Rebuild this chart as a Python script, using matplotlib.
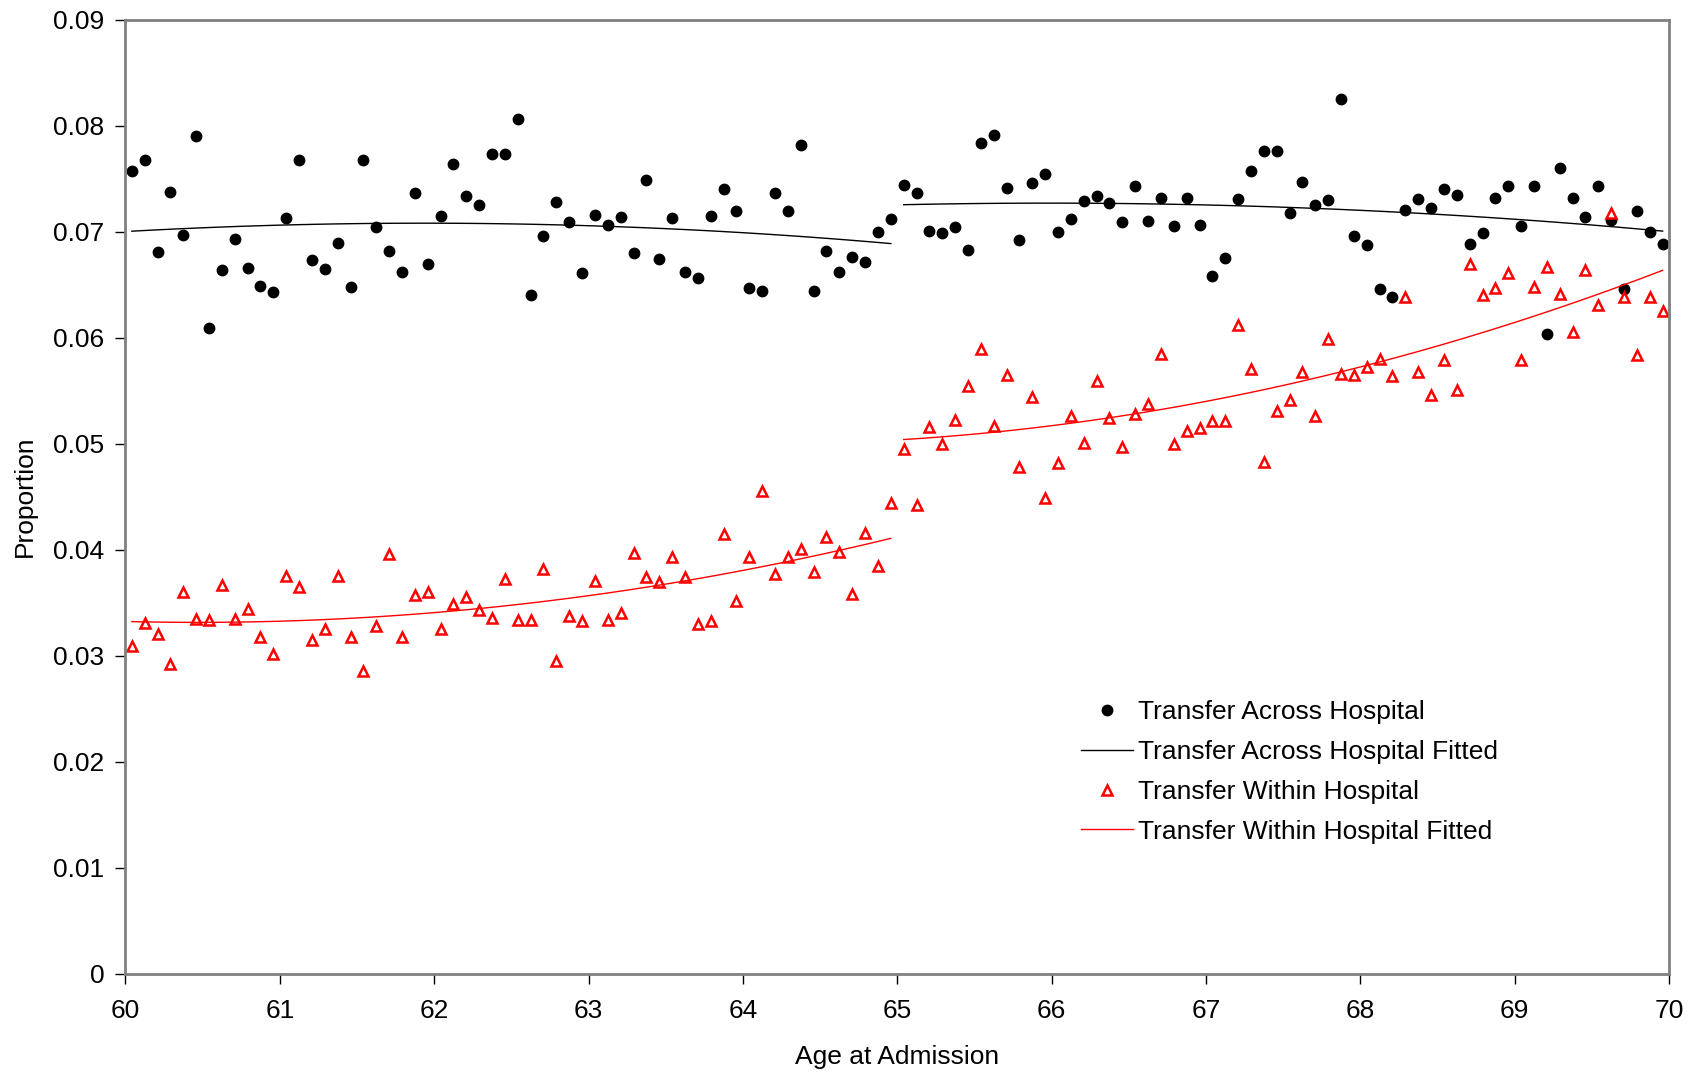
import matplotlib
matplotlib.use("Agg")
import matplotlib.pyplot as plt
import numpy as np

plt.rcParams['font.family'] = ['Liberation Sans', 'DejaVu Sans']

# monthly age bins, 60 to 70 (mid-month)
months = np.arange(120)
age = 60 + (months + 0.5) / 12

across = [
    0.0757, 0.0768, 0.0681, 0.0737, 0.0697, 0.0790, 0.0609, 0.0664, 0.0693, 0.0666,
    0.0649, 0.0643, 0.0713, 0.0768, 0.0673, 0.0665, 0.0689, 0.0648, 0.0768, 0.0704,
    0.0682, 0.0662, 0.0736, 0.0669, 0.0715, 0.0764, 0.0734, 0.0725, 0.0773, 0.0773,
    0.0806, 0.0640, 0.0696, 0.0728, 0.0709, 0.0661, 0.0716, 0.0706, 0.0714, 0.0680,
    0.0749, 0.0674, 0.0713, 0.0662, 0.0656, 0.0715, 0.0740, 0.0719, 0.0647, 0.0644,
    0.0736, 0.0719, 0.0782, 0.0644, 0.0682, 0.0662, 0.0676, 0.0671, 0.0700, 0.0712,
    0.0744, 0.0736, 0.0701, 0.0699, 0.0704, 0.0683, 0.0784, 0.0791, 0.0741, 0.0692,
    0.0746, 0.0754, 0.0700, 0.0712, 0.0729, 0.0734, 0.0727, 0.0709, 0.0743, 0.0710,
    0.0732, 0.0705, 0.0732, 0.0706, 0.0658, 0.0675, 0.0731, 0.0757, 0.0776, 0.0776,
    0.0718, 0.0747, 0.0725, 0.0730, 0.0825, 0.0696, 0.0687, 0.0646, 0.0638, 0.0720,
    0.0731, 0.0722, 0.0740, 0.0735, 0.0688, 0.0699, 0.0732, 0.0743, 0.0705, 0.0743,
    0.0603, 0.0760, 0.0732, 0.0714, 0.0743, 0.0711, 0.0646, 0.0719, 0.0700, 0.0688,
]

within = [
    0.0309, 0.0331, 0.0321, 0.0292, 0.0360, 0.0335, 0.0334, 0.0367, 0.0335, 0.0344,
    0.0318, 0.0302, 0.0375, 0.0365, 0.0315, 0.0325, 0.0375, 0.0318, 0.0286, 0.0328,
    0.0396, 0.0318, 0.0357, 0.0360, 0.0325, 0.0349, 0.0355, 0.0343, 0.0336, 0.0372,
    0.0334, 0.0334, 0.0382, 0.0295, 0.0338, 0.0333, 0.0371, 0.0334, 0.0340, 0.0397,
    0.0374, 0.0370, 0.0393, 0.0374, 0.0330, 0.0333, 0.0415, 0.0352, 0.0393, 0.0455,
    0.0377, 0.0393, 0.0401, 0.0379, 0.0412, 0.0398, 0.0358, 0.0416, 0.0385, 0.0444,
    0.0495, 0.0442, 0.0516, 0.0500, 0.0522, 0.0554, 0.0589, 0.0517, 0.0565, 0.0478,
    0.0544, 0.0449, 0.0482, 0.0526, 0.0501, 0.0559, 0.0524, 0.0497, 0.0528, 0.0537,
    0.0585, 0.0500, 0.0512, 0.0515, 0.0521, 0.0521, 0.0612, 0.0570, 0.0483, 0.0531,
    0.0541, 0.0568, 0.0526, 0.0599, 0.0566, 0.0565, 0.0572, 0.0580, 0.0564, 0.0638,
    0.0568, 0.0546, 0.0579, 0.0551, 0.0669, 0.0640, 0.0647, 0.0661, 0.0579, 0.0648,
    0.0667, 0.0641, 0.0605, 0.0664, 0.0631, 0.0718, 0.0638, 0.0584, 0.0638, 0.0625,
]

across = np.array(across)
within = np.array(within)
cutoff = 65


def fitted(x, y):
    # separate quadratic on each side of the cutoff
    pieces = []
    for mask in (x < cutoff, x >= cutoff):
        coef = np.polyfit(x[mask], y[mask], 2)
        xs = np.linspace(x[mask][0], x[mask][-1], 100)
        pieces.append((xs, np.polyval(coef, xs)))
    return pieces


fig = plt.figure(figsize=(16.95, 10.73), dpi=100)
ax = fig.add_axes([0.074, 0.0923, 0.9107, 0.8895])

ax.plot(age, across, 'o', color='black', markersize=7.5, label='Transfer Across Hospital')
for i, (xs, ys) in enumerate(fitted(age, across)):
    ax.plot(xs, ys, '-', color='black', lw=1.0,
            label='Transfer Across Hospital Fitted' if i == 0 else None)
ax.plot(age, within, '^', color='red', markerfacecolor='white', markeredgecolor='red',
        markersize=7, markeredgewidth=1.8, label='Transfer Within Hospital')
for i, (xs, ys) in enumerate(fitted(age, within)):
    ax.plot(xs, ys, '-', color='red', lw=1.0,
            label='Transfer Within Hospital Fitted' if i == 0 else None)

ax.set_xlim(60, 70)
ax.set_ylim(0, 0.09)
ax.set_xticks(np.arange(60, 71, 1))
ax.set_yticks(np.arange(0, 0.091, 0.01))
ax.set_yticklabels(['0'] + ['%.2f' % v for v in np.arange(0.01, 0.091, 0.01)])

for s in ax.spines.values():
    s.set_color('#808080')
    s.set_linewidth(2)
ax.tick_params(axis='both', direction='out', length=7, width=1, color='black',
               labelsize=19, pad=8)
ax.tick_params(axis='x', pad=11)

ax.set_xlabel('Age at Admission', fontsize=19, labelpad=16)
ax.set_ylabel('Proportion', fontsize=19, labelpad=12)

leg = ax.legend(loc='upper left', bbox_to_anchor=(0.6375, 0.3475),
                bbox_transform=fig.transFigure, frameon=False, fontsize=19,
                handlelength=1.97, handletextpad=0.22, labelspacing=0.6,
                borderpad=0, borderaxespad=0)

fig.savefig('out.png', dpi=100)
